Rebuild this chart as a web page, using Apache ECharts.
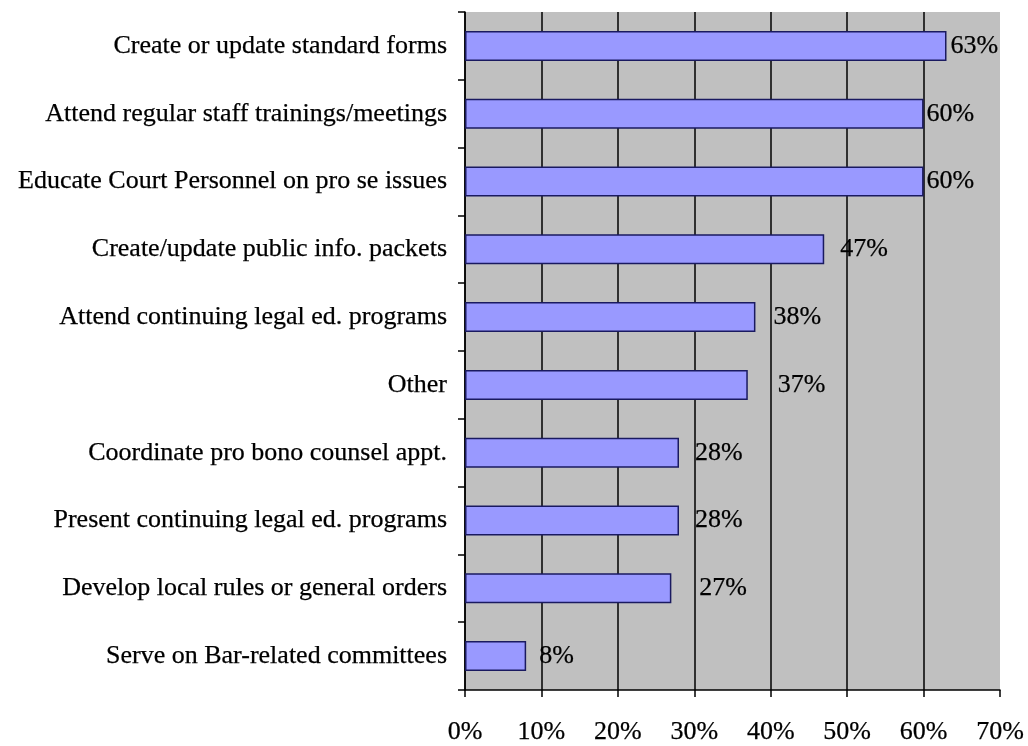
<!DOCTYPE html>
<html>
<head>
<meta charset="utf-8">
<style>
  html, body { margin: 0; padding: 0; background: #ffffff; }
  #chart { width: 1028px; height: 746px; }
</style>
<script src="https://cdn.jsdelivr.net/npm/echarts@6/dist/echarts.min.js"></script>
</head>
<body>
<div id="chart"></div>
<script>
// Activities, listed top to bottom
const activities = [
  'Create or update standard forms',
  'Attend regular staff trainings/meetings',
  'Educate Court Personnel on pro se issues',
  'Create/update public info. packets',
  'Attend continuing legal ed. programs',
  'Other',
  'Coordinate pro bono counsel appt.',
  'Present continuing legal ed. programs',
  'Develop local rules or general orders',
  'Serve on Bar-related committees'
];

// Share of respondents (%)
const shares = [63, 60, 60, 47, 38, 37, 28, 28, 27, 8];

// Percent axis ticks
const axisMin = 0;
const axisMax = 70;
const axisStep = 10;

// Gap in px between each bar end and its value label
const labelGap = [4, 3, 3, 16, 18, 30, 16, 16, 28, 13];

const FONT = 'Liberation Serif';

// Shared text look: black serif with a hairline stroke
const textStyle = {
  color: '#000000',
  fontFamily: FONT,
  fontSize: 26,
  textBorderColor: '#000000',
  textBorderWidth: 0.25
};

const chart = echarts.init(document.getElementById('chart'), null, { renderer: 'canvas' });

chart.setOption({
  animation: false,
  backgroundColor: '#ffffff',
  grid: {
    left: 465,
    right: 28,
    top: 12,
    bottom: 56,
    show: true,
    backgroundColor: '#c0c0c0',
    borderWidth: 0
  },
  xAxis: {
    type: 'value',
    min: axisMin,
    max: axisMax,
    interval: axisStep,
    axisLine: { show: true, lineStyle: { color: '#000000', width: 1.5 } },
    axisTick: { show: true, length: 7, lineStyle: { color: '#000000', width: 1.5 } },
    axisLabel: Object.assign({ margin: 29, formatter: '{value}%' }, textStyle),
    splitLine: {
      show: true,
      showMaxLine: false,
      lineStyle: { color: '#000000', width: 1.5 }
    }
  },
  yAxis: {
    type: 'category',
    inverse: true,
    data: activities,
    axisLine: { show: true, lineStyle: { color: '#000000', width: 1.5 } },
    axisTick: { show: true, length: 7, lineStyle: { color: '#000000', width: 1.5 } },
    axisLabel: Object.assign({ margin: 18 }, textStyle),
    splitLine: { show: false }
  },
  series: [{
    type: 'bar',
    barWidth: 30,
    data: shares.map((v, i) => ({
      value: v,
      label: { distance: labelGap[i] }
    })),
    itemStyle: {
      color: '#9999ff',
      borderColor: '#1a1a60',
      borderWidth: 1.5
    },
    label: Object.assign({
      show: true,
      position: 'right',
      formatter: '{c}%'
    }, textStyle)
  }]
});
</script>
</body>
</html>
